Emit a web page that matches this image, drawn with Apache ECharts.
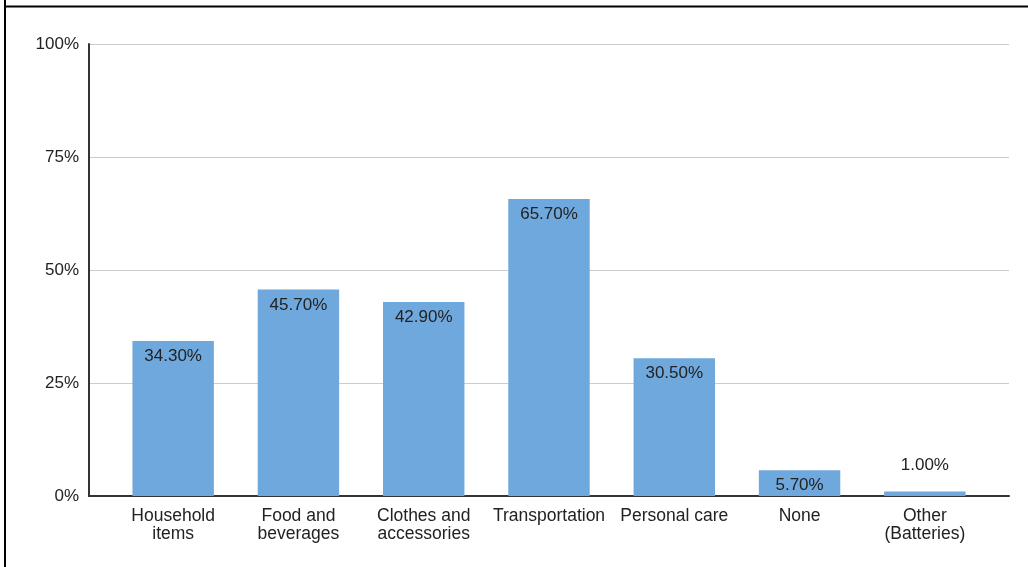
<!DOCTYPE html>
<html>
<head>
<meta charset="utf-8">
<style>
  html, body { margin: 0; padding: 0; background: #fff; }
  #chart { width: 1028px; height: 567px; }
</style>
<script src="https://cdn.jsdelivr.net/npm/echarts@6/dist/echarts.min.js"></script>
</head>
<body>
<div id="chart"></div>
<script>
// Share of respondents by category
const categories = [
  'Household\nitems',
  'Food and\nbeverages',
  'Clothes and\naccessories',
  'Transportation',
  'Personal care',
  'None',
  'Other\n(Batteries)'
];
const shares = [34.3, 45.7, 42.9, 65.7, 30.5, 5.7, 1.0];
const yTicks = [0, 25, 50, 75, 100];

const FONT = '"Liberation Sans", Arial, sans-serif';
const TEXT = '#222222';
const Y_MIN = yTicks[0];
const Y_MAX = yTicks[yTicks.length - 1];

// Small bars get their label above the bar instead of inside it
const barData = shares.map(v => {
  const item = { value: v };
  if (v < 3) {
    item.label = { position: 'top', distance: 18 };
  }
  return item;
});

const chart = echarts.init(document.getElementById('chart'), null, { renderer: 'canvas' });

chart.setOption({
  animation: false,
  backgroundColor: '#ffffff',
  // grid 0: frame with axis lines, gridlines and percent labels
  // grid 1: inset plotting band holding the bars and category labels
  grid: [
    { left: 89, right: 19, top: 44, bottom: 71 },
    { left: 110.5, right: 40.5, top: 44, bottom: 71 }
  ],
  xAxis: [
    {
      gridIndex: 0,
      type: 'category',
      data: categories,
      axisLine: { lineStyle: { color: '#333333', width: 2 } },
      axisTick: { show: false },
      axisLabel: { show: false }
    },
    {
      gridIndex: 1,
      type: 'category',
      data: categories,
      axisLine: { show: false },
      axisTick: { show: false },
      axisLabel: {
        color: TEXT, fontFamily: FONT, fontSize: 17.5, lineHeight: 18,
        margin: 11, interval: 0
      }
    }
  ],
  yAxis: [
    {
      gridIndex: 0,
      type: 'value',
      min: Y_MIN,
      max: Y_MAX,
      interval: 25,
      axisLine: { show: true, lineStyle: { color: '#333333', width: 2 } },
      axisTick: { show: false },
      splitLine: { lineStyle: { color: '#cccccc', width: 1 } },
      axisLabel: {
        color: TEXT, fontFamily: FONT, fontSize: 17, margin: 10,
        formatter: v => v + '%'
      }
    },
    {
      gridIndex: 1,
      type: 'value',
      min: Y_MIN,
      max: Y_MAX,
      interval: 25,
      show: false,
      splitLine: { show: false }
    }
  ],
  series: [{
    type: 'bar',
    xAxisIndex: 1,
    yAxisIndex: 1,
    data: barData,
    barCategoryGap: '35%',
    itemStyle: { color: '#6fa8dc' },
    label: {
      show: true,
      position: 'insideTop',
      distance: 7,
      color: TEXT,
      fontFamily: FONT,
      fontSize: 17,
      formatter: p => p.value.toFixed(2) + '%'
    }
  }],
  graphic: [
    { type: 'line', shape: { x1: 5, y1: 0, x2: 5, y2: 567 }, style: { stroke: '#000', lineWidth: 2 } },
    { type: 'line', shape: { x1: 4, y1: 6.5, x2: 1028, y2: 6.5 }, style: { stroke: '#000', lineWidth: 2 } }
  ]
});
</script>
</body>
</html>
